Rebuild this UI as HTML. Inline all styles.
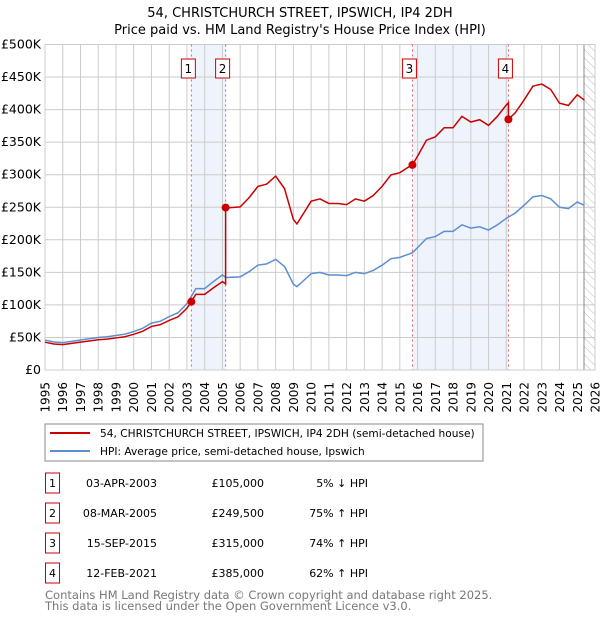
<!DOCTYPE html>
<html><head><meta charset="utf-8"><style>
body{margin:0;background:#fff;font-family:"DejaVu Sans","Liberation Sans",sans-serif;}
svg text{font-family:"DejaVu Sans","Liberation Sans",sans-serif;}
</style></head><body>
<svg id="c" width="600" height="620" viewBox="0 0 600 620" xmlns="http://www.w3.org/2000/svg">
<defs><pattern id="hatch" width="6" height="6" patternUnits="userSpaceOnUse" patternTransform="rotate(-45)"><line x1="0" y1="0" x2="0" y2="6" stroke="#bbb" stroke-width="1"/></pattern></defs>
<text x="300" y="17" text-anchor="middle" font-size="13">54, CHRISTCHURCH STREET, IPSWICH, IP4 2DH</text>
<text x="300" y="34" text-anchor="middle" font-size="13">Price paid vs. HM Land Registry's House Price Index (HPI)</text>
<g id="grid"></g><g id="marks"></g><g id="axes"></g>
<rect x="45" y="424" width="438" height="37" fill="#fff" stroke="#888"/>
<line x1="50" y1="433" x2="90" y2="433" stroke="#cc0000" stroke-width="2"/>
<text x="100" y="437" font-size="10.6">54, CHRISTCHURCH STREET, IPSWICH, IP4 2DH (semi-detached house)</text>
<line x1="50" y1="451" x2="90" y2="451" stroke="#5b8fd0" stroke-width="2"/>
<text x="100" y="455" font-size="10.6">HPI: Average price, semi-detached house, Ipswich</text>
<g id="table"></g>
<text x="45" y="599" font-size="11.5" fill="#777">Contains HM Land Registry data © Crown copyright and database right 2025.</text>
<text x="45" y="610" font-size="11.5" fill="#777">This data is licensed under the Open Government Licence v3.0.</text>
</svg>
<script>
const hpiYears=[1995,1995.5,1996,1996.5,1997,1997.5,1998,1998.5,1999,1999.5,2000,2000.5,2001,2001.5,2002,2002.5,2003,2003.25,2003.5,2004,2004.5,2005,2005.2,2006,2006.5,2007,2007.5,2008,2008.5,2009,2009.2,2010,2010.5,2011,2011.5,2012,2012.5,2013,2013.5,2014,2014.5,2015,2015.7,2016,2016.5,2017,2017.5,2018,2018.5,2019,2019.5,2020,2020.5,2021,2021.5,2022,2022.5,2023,2023.5,2024,2024.5,2025,2025.4];
const hpiValues=[46,43,42,44,46,48,50,51,53,55,59,64,72,75,82,88,102,113,125,125,136,146,142,143,151,161,163,170,159,132,128,148,150,146,146,145,150,148,153,161,171,173,180,188,202,205,213,213,223,218,220,215,223,233,241,253,266,268,263,250,248,258,253];
const saleDates=[2003.25,2005.18,2015.71,2021.12];
const salePrices=[105000,249500,315000,385000];
const saleLabels=["1","2","3","4"];
const saleDateText=["03-APR-2003","08-MAR-2005","15-SEP-2015","12-FEB-2021"];
const salePriceText=["£105,000","£249,500","£315,000","£385,000"];
const saleHpiText=["5% ↓ HPI","75% ↑ HPI","74% ↑ HPI","62% ↑ HPI"];
const yTicks=[0,50,100,150,200,250,300,350,400,450,500];
const xTicks=[1995,1996,1997,1998,1999,2000,2001,2002,2003,2004,2005,2006,2007,2008,2009,2010,2011,2012,2013,2014,2015,2016,2017,2018,2019,2020,2021,2022,2023,2024,2025,2026];
const NS="http://www.w3.org/2000/svg";
const L=45,R=595,T=44.5,B=370;
const X=y=>L+(y-1995)/(2026-1995)*(R-L);
const Y=v=>B-v/500*(B-T);
function mk(tag,attrs,parent){const e=document.createElementNS(NS,tag);for(const k in attrs)e.setAttribute(k,attrs[k]);parent.appendChild(e);return e;}
function hpiAt(t){for(let i=0;i<hpiYears.length-1;i++){if(t>=hpiYears[i]&&t<=hpiYears[i+1]){const f=(t-hpiYears[i])/(hpiYears[i+1]-hpiYears[i]);return hpiValues[i]+f*(hpiValues[i+1]-hpiValues[i]);}}return hpiValues[hpiValues.length-1];}
const grid=document.getElementById('grid'),marks=document.getElementById('marks'),axes=document.getElementById('axes'),table=document.getElementById('table');
for(let i=0;i<saleDates.length;i+=2){const r=mk('rect',{x:X(saleDates[i]),y:T,width:X(saleDates[i+1])-X(saleDates[i]),height:B-T,fill:'#eef3fc'},grid);

}
const hx=X(2025.38);
const hr=mk('rect',{x:hx,y:T,width:R-hx,height:B-T,fill:'url(#hatch)'},grid);


yTicks.forEach(v=>{mk('line',{x1:L,x2:R,y1:Y(v),y2:Y(v),stroke:'#ccc'},grid);
const t=mk('text',{x:L-4,y:Y(v)+4,'text-anchor':'end','font-size':12.5},axes);t.textContent='£'+(v?v+'K':'0');

});
xTicks.forEach(yr=>{mk('line',{x1:X(yr),x2:X(yr),y1:T,y2:B,stroke:'#ccc'},grid);
const t=mk('text',{x:0,y:0,'text-anchor':'end','font-size':12,transform:`translate(${X(yr)+4.5},382) rotate(-90)`},axes);t.textContent=yr;

});
mk('line',{x1:hx,x2:hx,y1:T,y2:B,stroke:'#888'},grid);
mk('rect',{x:L,y:T,width:R-L,height:B-T,fill:'none',stroke:'#ccc'},grid);
saleDates.forEach((d,i)=>{mk('line',{x1:X(d),x2:X(d),y1:T,y2:B,stroke:'#e06060','stroke-dasharray':'2,3'},marks);
const g=mk('g',{},marks);


mk('rect',{x:X(d)-10,y:59,width:14,height:19,fill:'#fff',stroke:'#cc0000'},g);
const t=mk('text',{x:X(d)-3,y:73,'text-anchor':'middle','font-size':12},g);t.textContent=saleLabels[i];});
const hp=mk('polyline',{points:hpiYears.map((y,i)=>X(y)+','+Y(hpiValues[i])).join(' '),fill:'none',stroke:'#5b8fd0','stroke-width':1.5},marks);


const factors=saleDates.map((d,i)=>salePrices[i]/1000/hpiAt(d));
function seg(t){let k=0;for(let i=0;i<saleDates.length;i++)if(t>=saleDates[i])k=i;return k;}
let pts=[];
const times=[...hpiYears,...saleDates].sort((a,b)=>a-b);
times.forEach(t=>{const k=seg(t);
saleDates.forEach((d,i)=>{if(i>0&&Math.abs(t-d)<1e-9){pts.push(X(t)+','+Y(hpiAt(t)*factors[i-1]));}});
pts.push(X(t)+','+Y(hpiAt(t)*factors[k]));});
const pl=mk('polyline',{points:pts.join(' '),fill:'none',stroke:'#cc0000','stroke-width':1.5},marks);


saleDates.forEach((d,i)=>{const c=mk('circle',{cx:X(d),cy:Y(salePrices[i]/1000),r:4,fill:'#cc0000'},marks);

});
saleDates.forEach((d,i)=>{const cy=483+i*30;
const g=mk('g',{},table);


mk('rect',{x:45.5,y:cy-10,width:14,height:20,fill:'#fff',stroke:'#cc0000'},g);
const n=mk('text',{x:52.5,y:cy+4,'text-anchor':'middle','font-size':11},g);n.textContent=saleLabels[i];
const a=mk('text',{x:157,y:cy+4,'text-anchor':'end','font-size':11},g);a.textContent=saleDateText[i];
const b=mk('text',{x:264,y:cy+4,'text-anchor':'end','font-size':11},g);b.textContent=salePriceText[i];
const c=mk('text',{x:368,y:cy+4,'text-anchor':'end','font-size':11},g);c.textContent=saleHpiText[i];});
</script>
</body></html>
